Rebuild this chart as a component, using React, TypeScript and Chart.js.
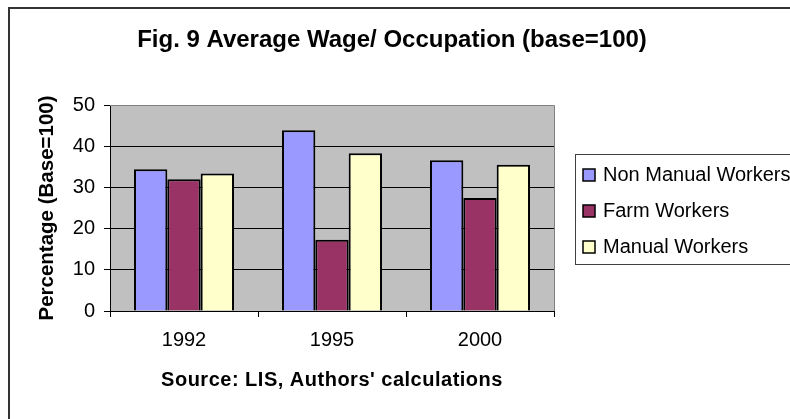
import React, { useEffect, useRef } from "react";
import { Chart, registerables } from "chart.js";

Chart.register(...registerables);

const categories = ["1992", "1995", "2000"];
const nonManual = [34.4, 43.9, 36.6];
const farm = [32.0, 17.3, 27.4];
const manual = [33.4, 38.3, 35.5];
const seriesNames = ["Non Manual Workers", "Farm Workers", "Manual Workers"];
const seriesColors = ["#9999FF", "#993366", "#FFFFCC"];
const chartTitle = "Fig. 9 Average Wage/ Occupation (base=100)";
const yTitle = "Percentage (Base=100)";
const xTitle = "Source: LIS, Authors' calculations";

const FONT = "'Liberation Sans', Arial, sans-serif";

const decorPlugin = {
  id: "decor",
  beforeDraw(chart: any) {
    const { ctx, chartArea } = chart;
    ctx.save();
    ctx.fillStyle = "#ffffff";
    ctx.fillRect(0, 0, chart.width, chart.height);
    ctx.fillStyle = "#C0C0C0";
    ctx.fillRect(chartArea.left, chartArea.top, chartArea.right - chartArea.left, chartArea.bottom - chartArea.top);
    ctx.restore();
  },
  afterDraw(chart: any) {
    const { ctx, chartArea } = chart;
    ctx.save();
    ctx.strokeStyle = "#808080";
    ctx.lineWidth = 1;
    ctx.beginPath();
    ctx.moveTo(chartArea.left, chartArea.top + 0.5);
    ctx.lineTo(chartArea.right + 0.5, chartArea.top + 0.5);
    ctx.lineTo(chartArea.right + 0.5, chartArea.bottom);
    ctx.stroke();

    ctx.strokeStyle = "#333333";
    ctx.lineWidth = 2;
    ctx.beginPath();
    ctx.moveTo(9, chart.height + 2);
    ctx.lineTo(9, 8);
    ctx.lineTo(chart.width + 2, 8);
    ctx.stroke();

    ctx.fillStyle = "#000";
    ctx.textAlign = "center";
    ctx.textBaseline = "middle";
    ctx.font = `bold 24px ${FONT}`;
    ctx.fillText(chartTitle, 392, 40);

    ctx.font = `bold 20px ${FONT}`;
    (ctx as any).letterSpacing = "0.5px";
    ctx.fillText(xTitle, (chartArea.left + chartArea.right) / 2, 380);
    (ctx as any).letterSpacing = "0px";

    ctx.save();
    ctx.translate(47, (chartArea.top + chartArea.bottom) / 2);
    ctx.rotate(-Math.PI / 2);
    ctx.font = `bold 20.5px ${FONT}`;
    ctx.fillText(yTitle, 0, 0);
    ctx.restore();

    ctx.strokeStyle = "#404040";
    ctx.lineWidth = 1;
    ctx.strokeRect(575.5, 154.5, 260, 110);
    ctx.fillStyle = "#ffffff";
    ctx.fillRect(576, 155, 259, 109);
    ctx.font = `20px ${FONT}`;
    ctx.textAlign = "left";
    chart.data.datasets.forEach((ds: any, i: number) => {
      const cy = 175 + 36 * i;
      ctx.fillStyle = ds.backgroundColor;
      ctx.fillRect(583, cy - 6, 12, 12);
      ctx.strokeStyle = "#000";
      ctx.lineWidth = 1.5;
      ctx.strokeRect(583, cy - 6, 12, 12);
      ctx.fillStyle = "#000";
      ctx.textBaseline = "middle";
      ctx.fillText(ds.label, 603, cy);
    });
    ctx.restore();
  },
};

export default function App() {
  const ref = useRef<HTMLCanvasElement>(null);
  useEffect(() => {
    if (!ref.current) return;
    const data = [nonManual, farm, manual];
    const chart = new Chart(ref.current, {
      type: "bar",
      data: {
        labels: categories,
        datasets: seriesNames.map((name, i) => ({
          label: name,
          data: data[i],
          backgroundColor: seriesColors[i],
          borderColor: "#000000",
          borderWidth: 2,
          categoryPercentage: 0.676,
          barPercentage: 1,
        })),
      },
      options: {
        responsive: false,
        animation: false,
        devicePixelRatio: 1,
        layout: { padding: { top: 105, right: 236, bottom: 0, left: 0 } },
        plugins: { legend: { display: false }, title: { display: false }, tooltip: { enabled: false } },
        scales: {
          x: {
            grid: { display: true, drawOnChartArea: false, drawTicks: true, tickLength: 6, color: "#000", offset: true },
            border: { display: true, color: "#000", width: 1 },
            ticks: { color: "#000", font: { family: FONT, size: 20 }, padding: 11 },
            afterFit: (s: any) => { s.height = 108; },
          },
          y: {
            min: 0,
            max: 50,
            ticks: { stepSize: 10, color: "#000", font: { family: FONT, size: 20 }, padding: 9 },
            grid: { color: "#000", lineWidth: 1, drawTicks: true, tickLength: 6 },
            border: { display: true, color: "#000", width: 1 },
            afterFit: (s: any) => { s.width = 110; },
          },
        },
      },
      plugins: [decorPlugin],
    });
    return () => chart.destroy();
  }, []);
  return (
    <div style={{ position: "absolute", left: 0, top: 0, width: 790, height: 419 }}>
      <canvas ref={ref} width={790} height={419} style={{ display: "block" }} />
    </div>
  );
}
